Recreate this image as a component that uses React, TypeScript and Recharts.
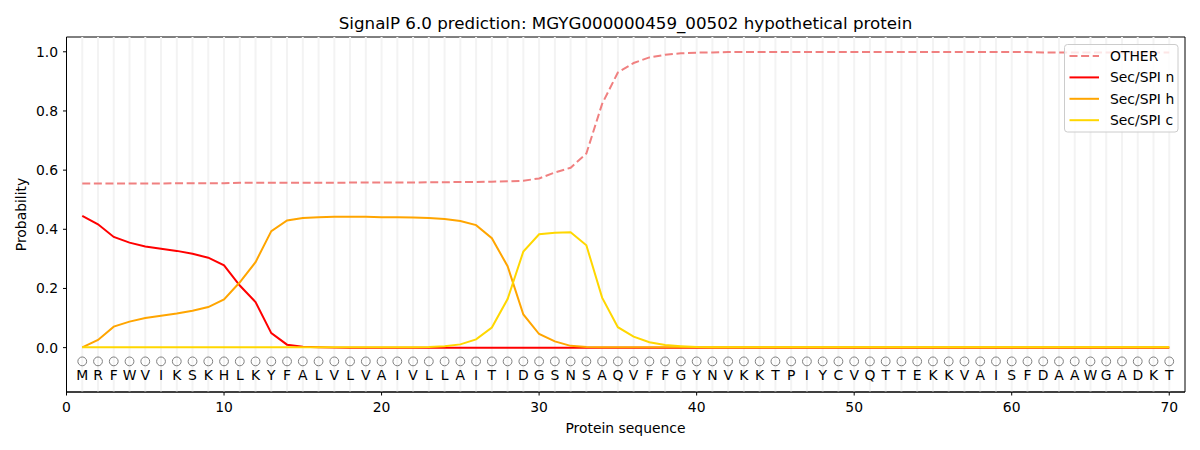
import React from 'react';
import {
  ComposedChart,
  Line,
  Scatter,
  XAxis,
  YAxis,
  ReferenceLine,
  ReferenceArea,
} from 'recharts';

const SEQUENCE = 'MRFWVIKSKHLKYFALVLVAIVLLAITIDGSNSAQVFFGYNVKKTPIYCVQTTEKKVAISFDAAWGADKT';

const positions: number[] = Array.from({ length: 70 }, (_, i) => i + 1);

const otherValues: number[] = [
  0.555, 0.555, 0.555, 0.555, 0.555, 0.555, 0.556, 0.556, 0.556, 0.556,
  0.557, 0.557, 0.557, 0.557, 0.557, 0.557, 0.557, 0.558, 0.558, 0.558,
  0.558, 0.558, 0.559, 0.559, 0.56, 0.56, 0.561, 0.562, 0.564, 0.572,
  0.592, 0.608, 0.656, 0.824, 0.93, 0.962, 0.981, 0.99, 0.995, 0.997,
  0.998, 0.999, 0.999, 0.999, 0.999, 0.999, 0.999, 0.999, 0.999, 0.999,
  0.999, 0.999, 0.999, 0.999, 0.999, 0.999, 0.999, 0.999, 0.999, 0.999,
  0.999, 0.998, 0.998, 0.998, 0.998, 0.998, 0.998, 0.998, 0.998, 0.998,
];

const secNValues: number[] = [
  0.445, 0.417, 0.374, 0.355, 0.342, 0.334, 0.327, 0.317, 0.304, 0.278,
  0.21, 0.154, 0.049, 0.01, 0.003, 0.001, 0, 0, 0, 0,
  0, 0, 0, 0, 0, 0, 0, 0, 0, 0,
  0, 0, 0, 0, 0, 0, 0, 0, 0, 0,
  0, 0, 0, 0, 0, 0, 0, 0, 0, 0,
  0, 0, 0, 0, 0, 0, 0, 0, 0, 0,
  0, 0, 0, 0, 0, 0, 0, 0, 0, 0,
];

const secHValues: number[] = [
  0.001, 0.026, 0.071, 0.088, 0.1, 0.108, 0.115, 0.125, 0.137, 0.163,
  0.221, 0.289, 0.394, 0.43, 0.438, 0.441, 0.442, 0.442, 0.442, 0.441,
  0.441, 0.44, 0.438, 0.435, 0.428, 0.414, 0.37, 0.275, 0.112, 0.046,
  0.021, 0.006, 0.002, 0.001, 0.001, 0.001, 0.001, 0.001, 0.001, 0.001,
  0.001, 0.001, 0.001, 0.001, 0.001, 0.001, 0.001, 0.001, 0.001, 0.001,
  0.001, 0.001, 0.001, 0.001, 0.001, 0.001, 0.001, 0.001, 0.001, 0.001,
  0.001, 0.001, 0.001, 0.001, 0.001, 0.001, 0.001, 0.001, 0.001, 0.001,
];

const secCValues: number[] = [
  0.001, 0.001, 0.001, 0.001, 0.001, 0.001, 0.001, 0.001, 0.001, 0.001,
  0.001, 0.001, 0.001, 0.001, 0.001, 0.001, 0.001, 0.001, 0.001, 0.001,
  0.001, 0.001, 0.002, 0.005, 0.011, 0.028, 0.068, 0.164, 0.325, 0.383,
  0.388, 0.39, 0.346, 0.169, 0.069, 0.037, 0.018, 0.009, 0.005, 0.002,
  0.001, 0.001, 0.001, 0.001, 0.001, 0.001, 0.001, 0.001, 0.001, 0.001,
  0.001, 0.001, 0.001, 0.001, 0.001, 0.001, 0.001, 0.001, 0.001, 0.001,
  0.001, 0.001, 0.001, 0.001, 0.001, 0.001, 0.001, 0.001, 0.001, 0.001,
];

const xTicks: number[] = [0, 10, 20, 30, 40, 50, 60, 70];
const yTicks: number[] = [0, 0.2, 0.4, 0.6, 0.8, 1.0];

const CIRCLE_ROW = -0.0465;
const LETTER_ROW = -0.094;

const COLORS = {
  other: '#f08080',
  n: '#ff0000',
  h: '#ffa500',
  c: '#ffd700',
};

const FONT = '"DejaVu Sans", Verdana, sans-serif';

const lineData = positions.map((pos, i) => ({
  pos,
  other: otherValues[i],
  n: secNValues[i],
  h: secHValues[i],
  c: secCValues[i],
}));

const circleData = positions.map((pos) => ({ pos, mark: CIRCLE_ROW }));
const letterData = positions.map((pos, i) => ({ pos, mark: LETTER_ROW, aa: SEQUENCE[i] }));

const CircleShape = (props: any) => (
  <circle cx={props.cx} cy={props.cy} r={4.4} fill="none" stroke="#808080" strokeWidth={1} />
);

const LetterShape = (props: any) => (
  <text
    x={props.cx}
    y={props.cy}
    textAnchor="middle"
    dominantBaseline="central"
    fontSize={13.9}
    fontFamily={FONT}
    fill="#000"
  >
    {props.payload?.aa}
  </text>
);

const legendItems = [
  { label: 'OTHER', color: COLORS.other, dashed: true },
  { label: 'Sec/SPI n', color: COLORS.n, dashed: false },
  { label: 'Sec/SPI h', color: COLORS.h, dashed: false },
  { label: 'Sec/SPI c', color: COLORS.c, dashed: false },
];

export default function App() {
  return (
    <div style={{ position: 'absolute', left: 0, top: 0, width: 1200, height: 450, background: '#fff' }}>
      <ComposedChart
        width={1200}
        height={450}
        data={lineData}
        margin={{ top: 37, right: 15, left: 0, bottom: 28 }}
      >
        <XAxis
          type="number"
          dataKey="pos"
          domain={[0, 71]}
          ticks={xTicks}
          allowDataOverflow
          height={30}
          stroke="#000"
          tickSize={3.5}
          tickMargin={6.5}
          tick={{ fill: '#000', fontSize: 13.9, fontFamily: FONT }}
          tickLine={{ stroke: '#000' }}
        />
        <YAxis
          type="number"
          domain={[-0.15, 1.05]}
          ticks={yTicks}
          allowDataOverflow
          width={66.5}
          stroke="#000"
          tickSize={3.5}
          tickMargin={5}
          tickFormatter={(v: number) => v.toFixed(1)}
          tick={{ fill: '#000', fontSize: 13.9, fontFamily: FONT }}
          tickLine={{ stroke: '#000' }}
        />
        {positions.map((p) => (
          <ReferenceLine key={'g' + p} x={p} stroke="#f3f3f3" strokeWidth={2} />
        ))}
        <ReferenceArea x1={0} x2={71} y1={-0.15} y2={1.05} fill="none" stroke="#000" strokeWidth={1} />
        <Line
          type="linear"
          dataKey="other"
          stroke={COLORS.other}
          strokeWidth={2}
          strokeDasharray="8 3.6"
          dot={false}
          isAnimationActive={false}
        />
        <Line type="linear" dataKey="n" stroke={COLORS.n} strokeWidth={2} dot={false} isAnimationActive={false} />
        <Line type="linear" dataKey="h" stroke={COLORS.h} strokeWidth={2} dot={false} isAnimationActive={false} />
        <Line type="linear" dataKey="c" stroke={COLORS.c} strokeWidth={2} dot={false} isAnimationActive={false} />
        <Scatter data={circleData} dataKey="mark" shape={CircleShape} isAnimationActive={false} />
        <Scatter data={letterData} dataKey="mark" shape={LetterShape} isAnimationActive={false} />
      </ComposedChart>
      <svg
        width={1200}
        height={450}
        style={{ position: 'absolute', left: 0, top: 0, pointerEvents: 'none' }}
      >
        <text x={625.5} y={23} textAnchor="middle" dominantBaseline="central" fontSize={16.7} fontFamily={FONT} fill="#000">
          SignalP 6.0 prediction: MGYG000000459_00502 hypothetical protein
        </text>
        <text x={625.5} y={428} textAnchor="middle" dominantBaseline="central" fontSize={13.9} fontFamily={FONT} fill="#000">
          Protein sequence
        </text>
        <text
          x={21}
          y={214.5}
          textAnchor="middle"
          dominantBaseline="central"
          fontSize={13.9}
          fontFamily={FONT}
          fill="#000"
          transform="rotate(-90 21 214.5)"
        >
          Probability
        </text>
        <g transform="translate(1064.5 44.5)">
          <rect x={0} y={0} width={113.5} height={87.5} rx={3} ry={3} fill="rgba(255,255,255,0.8)" stroke="#cccccc" strokeWidth={1} />
          {legendItems.map((it, i) => {
            const cy = 11.5 + i * 21.4;
            return (
              <g key={it.label}>
                <line
                  x1={5}
                  x2={34.5}
                  y1={cy}
                  y2={cy}
                  stroke={it.color}
                  strokeWidth={2}
                  strokeDasharray={it.dashed ? '8 3.6' : undefined}
                />
                <text x={45.5} y={cy} dominantBaseline="central" fontSize={13.9} fontFamily={FONT} fill="#000">
                  {it.label}
                </text>
              </g>
            );
          })}
        </g>
      </svg>
    </div>
  );
}
